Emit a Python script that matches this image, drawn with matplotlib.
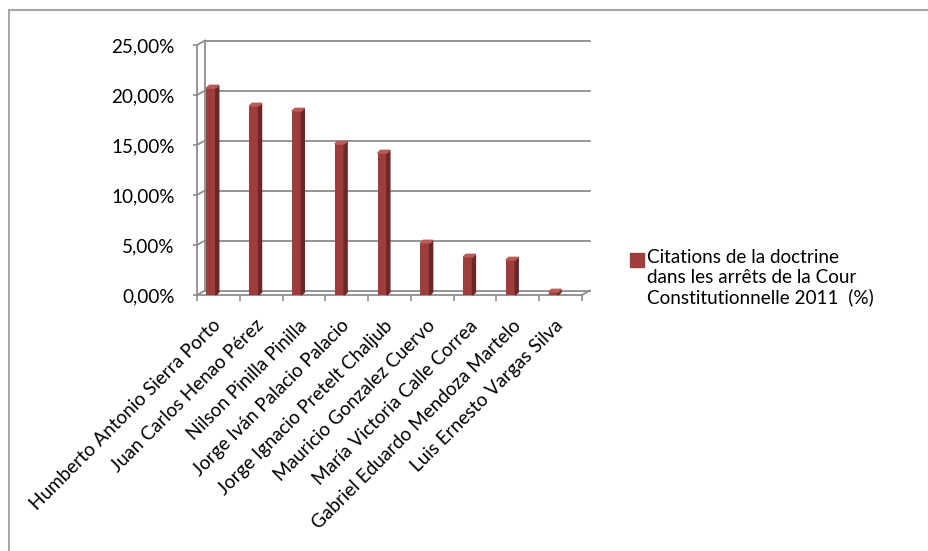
import numpy as np
import matplotlib.pyplot as plt
from matplotlib.patches import Polygon, Rectangle
from matplotlib.ticker import FuncFormatter

# ---- données ----
juges = [
    "Humberto Antonio Sierra Porto",
    "Juan Carlos Henao Pérez",
    "Nilson Pinilla Pinilla",
    "Jorge Iván Palacio Palacio",
    "Jorge Ignacio Pretelt Chaljub",
    "Mauricio Gonzalez Cuervo",
    "María Victoria Calle Correa",
    "Gabriel Eduardo Mendoza Martelo",
    "Luis Ernesto Vargas Silva",
]
citations = [20.7, 18.9, 18.4, 15.1, 14.2, 5.2, 3.8, 3.5, 0.3]
y_ticks = [0, 5, 10, 15, 20, 25]
legende = "Citations de la doctrine\ndans les arrêts de la Cour\nConstitutionnelle 2011  (%)"

plt.rcParams['font.family'] = ['Lato', 'DejaVu Sans']

c_face = '#9e3d3b'
c_side = '#6a2725'
c_top = '#b95b58'
c_grid = '#8c8c8c'
fs = 13.6

W, H = 929, 551
fig = plt.figure(figsize=(W / 100, H / 100), dpi=100)


def fx(px):
    return px / W


def fy(py):
    return 1 - py / H


# plan avant du graphique 3D (en pixels)
x0, x1, ytop, ybot = 197, 582, 45, 295
ax = fig.add_axes([fx(x0), fy(ybot), fx(x1) - fx(x0), fy(ytop) - fy(ybot)])
n = len(juges)
ymax = y_ticks[-1]
ax.set_xlim(0, n)
ax.set_ylim(0, ymax)
ax.set_facecolor('none')
for s in ax.spines.values():
    s.set_visible(False)

# conversion pixels -> données
sx = n / (x1 - x0)
sy = ymax / (ybot - ytop)
dep_x, dep_y = 8 * sx, 4.5 * sy

lk = dict(color=c_grid, lw=1.3, clip_on=False, zorder=1)
# mur du fond + mur de gauche
for v in y_ticks:
    ax.plot([dep_x, n + dep_x], [v + dep_y, v + dep_y], **lk)
    ax.plot([0, dep_x], [v, v + dep_y], **lk)
ax.plot([0, 0], [0, ymax], **lk)
ax.plot([dep_x, dep_x], [dep_y, ymax + dep_y], **lk)
# sol
ax.plot([0, n], [0, 0], **lk)
ax.plot([n, n + dep_x], [0, dep_y], **lk)

# barres (face avant + côté + dessus)
pos = np.arange(n) + 0.33
bw = 9.3 * sx
bdx, bdy = 3 * sx, 2.7 * sy
ax.bar(pos, citations, width=bw, color=c_face, zorder=3, clip_on=False)
for p, v in zip(pos, citations):
    xl, xr = p - bw / 2, p + bw / 2
    ax.add_patch(Polygon([(xr, 0), (xr, v), (xr + bdx, v + bdy), (xr + bdx, bdy)],
                         closed=True, color=c_side, zorder=3, clip_on=False))
    ax.add_patch(Polygon([(xl, v), (xr, v), (xr + bdx, v + bdy), (xl + bdx, v + bdy)],
                         closed=True, color=c_top, zorder=3, clip_on=False))

# axe des y
ax.set_yticks(y_ticks)
ax.yaxis.set_major_formatter(FuncFormatter(lambda v, _: f"{v:.2f}".replace('.', ',') + "%"))
ax.tick_params(axis='y', length=3, width=1.2, color=c_grid, pad=13, labelsize=fs)

# axe des x
ax.set_xticks(np.arange(n) + 0.5)
ax.set_xticklabels(juges, rotation=45, ha='right', va='center', rotation_mode='anchor')
ax.set_xticks(np.arange(n + 1), minor=True)
ax.tick_params(axis='x', which='major', length=0, pad=20, labelsize=fs)
ax.tick_params(axis='x', which='minor', length=4, width=1.2, color=c_grid)

# légende
fig.add_artist(Rectangle((fx(630), fy(267)), 14 / W, 14 / H, color=c_face,
                         transform=fig.transFigure))
fig.text(fx(647), fy(249), legende, ha='left', va='top', fontsize=fs, linespacing=1.18)

# cadre du graphique
fig.add_artist(Rectangle((fx(9), -0.1), 1.2, fy(10) + 0.1, fill=False,
                         edgecolor='#a6a6a6', lw=1.5, transform=fig.transFigure))

fig.savefig('out.png', dpi=100, facecolor='white')
